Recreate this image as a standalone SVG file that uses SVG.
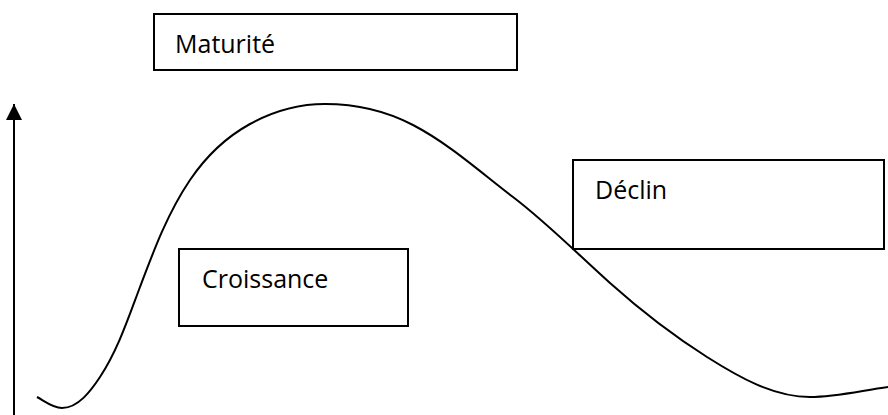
<svg xmlns="http://www.w3.org/2000/svg" width="888" height="415" viewBox="0 0 888 415">
<style>
.box{fill:#fff;stroke:#000;stroke-width:2}
.lbl{font-family:"Open Sans","Noto Sans",sans-serif;font-size:25px;fill:#000}
.conn{fill:none;stroke:#000;stroke-width:2}
</style>
<defs>
<marker id="ah" markerUnits="userSpaceOnUse" markerWidth="16" markerHeight="16" refX="16" refY="8" orient="auto" viewBox="0 0 16 16">
<path d="M0,0 L16,8 L0,16 Z" fill="#000"/>
</marker>
</defs>
<rect width="888" height="415" fill="#fff"/>
<g id="connectors">
<line id="axis" class="conn" x1="14" y1="415" x2="14" y2="104" stroke-width="2.5" marker-end="url(#ah)"/>
<path id="curve" class="conn" d="M37,397 C45,401.4 52.9,408 62,408 C78.3,408 91,390.6 100,377 C118,349.6 128.4,317.7 140,287 C153.9,250.1 167.9,212.6 190,180 C205.4,157.3 226,137.2 250,124 C272.7,111.5 299.1,104 325,104 C355.2,104 386.2,111 413,125 C449.4,144 480.3,172.1 513,197 C547.4,223.2 577.8,254.2 610,283 C640.3,310.1 672.6,335.2 707,357 C738.1,376.7 773.2,397 810,397 C836.2,397 862.1,390.4 888,387"/>
</g>
<g id="maturite">
<rect class="box" x="154" y="14" width="363" height="56"/>
<text class="lbl" x="175" y="53">Maturité</text>
</g>
<g id="croissance">
<rect class="box" x="179" y="249" width="229" height="77"/>
<text class="lbl" x="202" y="288">Croissance</text>
</g>
<g id="declin">
<rect class="box" x="573" y="160" width="311" height="89"/>
<text class="lbl" x="595" y="199">Déclin</text>
</g>
</svg>
